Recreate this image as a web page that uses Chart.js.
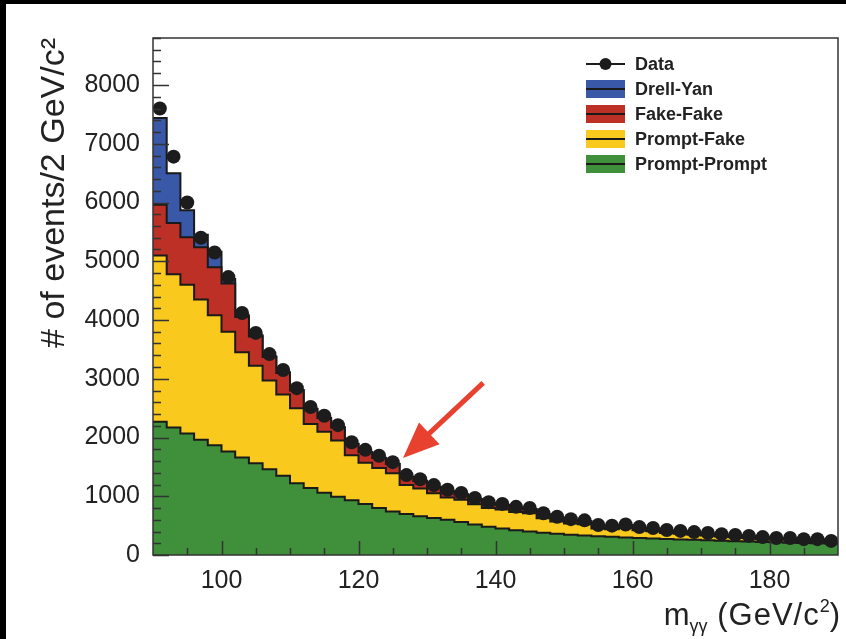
<!DOCTYPE html>
<html>
<head>
<meta charset="utf-8">
<script src="https://cdn.jsdelivr.net/npm/chart.js@4/dist/chart.umd.min.js"></script>
<style>
  html, body { margin: 0; padding: 0; background: #fff; }
  canvas { display: block; }
</style>
</head>
<body>
<canvas id="massChart" width="846" height="639"></canvas>
<script>
// Di-photon invariant mass, 2 GeV/c^2 bins (lower edges) from 90 to 190
const massBins = [90, 92, 94, 96, 98, 100, 102, 104, 106, 108,
                  110, 112, 114, 116, 118, 120, 122, 124, 126, 128,
                  130, 132, 134, 136, 138, 140, 142, 144, 146, 148,
                  150, 152, 154, 156, 158, 160, 162, 164, 166, 168,
                  170, 172, 174, 176, 178, 180, 182, 184, 186, 188];
const binWidth = 2;
const massMax = 190;

// Observed events per bin
const dataCounts = [7600, 6780, 6000, 5400, 5150, 4730, 4120, 3780, 3420, 3150,
                    2840, 2520, 2370, 2210, 1920, 1790, 1690, 1580, 1360, 1290,
                    1190, 1110, 1055, 970, 900, 870, 820, 800, 710, 650,
                    610, 590, 510, 500, 520, 475, 460, 425, 410, 390,
                    375, 355, 340, 325, 305, 290, 290, 270, 270, 240];

// Background components (stacked, bottom to top)
const promptPrompt = [2270, 2170, 2070, 1960, 1870, 1760, 1660, 1560, 1460, 1350,
                      1220, 1140, 1060, 990, 930, 870, 800, 740, 700, 660,
                      630, 600, 560, 520, 480, 450, 420, 400, 380, 360,
                      345, 330, 320, 310, 300, 290, 280, 272, 265, 258,
                      250, 243, 236, 230, 223, 217, 210, 205, 200, 195];
const promptFake = [2830, 2610, 2530, 2390, 2210, 2040, 1790, 1660, 1510, 1380,
                    1280, 1090, 1040, 960, 770, 700, 680, 650, 490, 470,
                    420, 380, 380, 345, 320, 325, 310, 310, 245, 210,
                    190, 195, 130, 130, 160, 130, 125, 102, 97, 86,
                    80, 71, 66, 58, 48, 41, 49, 35, 41, 18];
const fakeFake = [860, 870, 810, 890, 820, 820, 600, 500, 400, 370,
                  300, 250, 230, 220, 190, 180, 170, 160, 140, 130,
                  110, 100, 90, 85, 80, 75, 70, 70, 65, 60,
                  55, 50, 45, 45, 45, 40, 40, 38, 36, 34,
                  32, 30, 28, 27, 25, 24, 23, 22, 21, 20];
const drellYan = [1480, 850, 460, 210, 260, 80, 30, 20, 15, 10,
                  10, 8, 6, 5, 5, 4, 4, 3, 3, 3,
                  2, 2, 2, 2, 2, 1, 1, 1, 1, 1,
                  1, 1, 1, 1, 1, 1, 1, 1, 1, 1,
                  1, 1, 1, 1, 1, 1, 1, 1, 1, 1];

// Axis ticks
const yMajorTicks = [0, 1000, 2000, 3000, 4000, 5000, 6000, 7000, 8000];
const xMajorTicks = [100, 120, 140, 160, 180];
const yMinorStep = 200;
const xMinorStep = 5;

// Annotation arrow (mass, events): tail and tip
const arrowTail = [138.2, 2930];
const arrowTip = [126.5, 1650];

const FONT = '"Liberation Sans", Arial, Helvetica, sans-serif';
const INK = '#222';

// Step-histogram points: one per lower edge, plus the closing upper edge
function histPoints(values) {
  const pts = massBins.map((x, i) => ({ x: x, y: values[i] }));
  pts.push({ x: massMax, y: values[values.length - 1] });
  return pts;
}

function component(label, values, color, fill) {
  return {
    label: label,
    data: histPoints(values),
    stepped: 'before',
    backgroundColor: color,
    borderColor: '#1a1a1a',
    borderWidth: 2,
    pointRadius: 0,
    fill: fill,
    stack: 'background',
    order: 1
  };
}

const datasets = [
  component('Prompt-Prompt', promptPrompt, '#3f8f3b', 'origin'),
  component('Prompt-Fake', promptFake, '#f9c91e', '-1'),
  component('Fake-Fake', fakeFake, '#bd3026', '-1'),
  component('Drell-Yan', drellYan, '#3a58a8', '-1'),
  {
    label: 'Data',
    data: massBins.map((x, i) => ({ x: x + binWidth / 2, y: dataCounts[i] })),
    showLine: false,
    pointRadius: 7,
    pointBackgroundColor: '#1c1c1c',
    pointBorderWidth: 0,
    stack: 'data',
    order: -1
  }
];

// White page with the dark scan edge along the top and left
const pageFrame = {
  id: 'pageFrame',
  beforeDraw(chart) {
    const { ctx, width, height } = chart;
    ctx.save();
    ctx.fillStyle = '#fff';
    ctx.fillRect(0, 0, width, height);
    ctx.fillStyle = '#000';
    ctx.fillRect(0, 0, width, 4);
    ctx.fillRect(0, 0, 6, height);
    ctx.restore();
  }
};

// Inward-pointing major/minor ticks and the plot frame
const axisFrame = {
  id: 'axisFrame',
  afterDatasetsDraw(chart) {
    const { ctx, chartArea: a, scales: { x, y } } = chart;
    ctx.save();
    ctx.strokeStyle = '#333';
    ctx.lineWidth = 1.5;
    ctx.beginPath();
    const nY = Math.floor(y.max / yMinorStep);
    for (let i = 0; i <= nY; i++) {
      const v = i * yMinorStep;
      const py = Math.round(y.getPixelForValue(v)) + 0.5;
      const len = yMajorTicks.includes(v) ? 16 : 8;
      ctx.moveTo(a.left, py);
      ctx.lineTo(a.left + len, py);
    }
    const nX = Math.floor((x.max - x.min) / xMinorStep);
    for (let i = 1; i < nX; i++) {
      const v = x.min + i * xMinorStep;
      const px = Math.round(x.getPixelForValue(v)) + 0.5;
      const len = xMajorTicks.includes(v) ? 14 : 7;
      ctx.moveTo(px, a.bottom);
      ctx.lineTo(px, a.bottom - len);
    }
    ctx.stroke();
    ctx.strokeRect(a.left, a.top, a.right - a.left, a.bottom - a.top);
    ctx.restore();
  }
};

// Legend inside the frame: data marker first, then the stack from top to bottom
const stackLegend = {
  id: 'stackLegend',
  afterDraw(chart) {
    const { ctx } = chart;
    const items = chart.data.datasets.slice().reverse();
    const x0 = 586, w = 39, h = 18, textX = 635, rowY = 64, rowStep = 25;
    ctx.save();
    ctx.font = 'bold 18px ' + FONT;
    ctx.textBaseline = 'middle';
    items.forEach((ds, i) => {
      const cy = rowY + i * rowStep;
      if (ds.stack === 'data') {
        ctx.strokeStyle = '#1c1c1c';
        ctx.lineWidth = 2;
        ctx.beginPath();
        ctx.moveTo(x0, cy);
        ctx.lineTo(x0 + w, cy);
        ctx.stroke();
        ctx.fillStyle = '#1c1c1c';
        ctx.beginPath();
        ctx.arc(x0 + w / 2, cy, 6, 0, Math.PI * 2);
        ctx.fill();
      } else {
        ctx.fillStyle = ds.backgroundColor;
        ctx.fillRect(x0, cy - h / 2, w, h);
        ctx.strokeStyle = '#1a1a1a';
        ctx.lineWidth = 2;
        ctx.beginPath();
        ctx.moveTo(x0, cy);
        ctx.lineTo(x0 + w, cy);
        ctx.stroke();
      }
      ctx.fillStyle = INK;
      ctx.fillText(ds.label, textX, cy + 1);
    });
    ctx.restore();
  }
};

// Axis title with sub- and superscripts, right-aligned under the x axis
const massTitle = {
  id: 'massTitle',
  afterDraw(chart) {
    const { ctx } = chart;
    const base = 625, rightEdge = 840;
    const parts = [
      { t: 'm', size: 31, dy: 0, sp: 0 },
      { t: 'γγ', size: 18, dy: 7, sp: 0 },
      { t: ' (GeV/c', size: 31, dy: 0, sp: 1 },
      { t: '2', size: 18, dy: -13, sp: 0 },
      { t: ')', size: 31, dy: 0, sp: 0 }
    ];
    ctx.save();
    ctx.fillStyle = INK;
    ctx.textBaseline = 'alphabetic';
    let total = 0;
    parts.forEach(p => {
      ctx.font = p.size + 'px ' + FONT;
      ctx.letterSpacing = p.sp + 'px';
      p.w = ctx.measureText(p.t).width;
      total += p.w;
    });
    let x = rightEdge - total;
    parts.forEach(p => {
      ctx.font = p.size + 'px ' + FONT;
      ctx.letterSpacing = p.sp + 'px';
      ctx.fillText(p.t, x, base + p.dy);
      x += p.w;
    });
    ctx.restore();
  }
};

// Red arrow pointing at the bin of interest
const pointerArrow = {
  id: 'pointerArrow',
  afterDraw(chart) {
    const { ctx, scales: { x, y } } = chart;
    const tx = x.getPixelForValue(arrowTail[0]), ty = y.getPixelForValue(arrowTail[1]);
    const hx = x.getPixelForValue(arrowTip[0]), hy = y.getPixelForValue(arrowTip[1]);
    const ang = Math.atan2(hy - ty, hx - tx);
    const headLen = 36, headHalf = 15;
    const bx = hx - headLen * Math.cos(ang), by = hy - headLen * Math.sin(ang);
    ctx.save();
    ctx.strokeStyle = '#e8412f';
    ctx.fillStyle = '#e8412f';
    ctx.lineWidth = 5;
    ctx.beginPath();
    ctx.moveTo(tx, ty);
    ctx.lineTo(bx + 4 * Math.cos(ang), by + 4 * Math.sin(ang));
    ctx.stroke();
    ctx.beginPath();
    ctx.moveTo(hx, hy);
    ctx.lineTo(bx + headHalf * Math.sin(ang), by - headHalf * Math.cos(ang));
    ctx.lineTo(bx - headHalf * Math.sin(ang), by + headHalf * Math.cos(ang));
    ctx.closePath();
    ctx.fill();
    ctx.restore();
  }
};

new Chart(document.getElementById('massChart'), {
  type: 'line',
  data: { datasets: datasets },
  options: {
    responsive: false,
    animation: false,
    devicePixelRatio: 1,
    layout: { padding: { left: 6, top: 38, right: 8, bottom: 0 } },
    plugins: {
      legend: { display: false },
      tooltip: { enabled: false }
    },
    scales: {
      x: {
        type: 'linear',
        min: 90,
        max: massMax,
        grid: { display: false, drawTicks: false },
        border: { display: false },
        afterBuildTicks: s => { s.ticks = xMajorTicks.map(v => ({ value: v })); },
        afterFit: s => { s.height = 84; },
        ticks: {
          padding: 11,
          maxRotation: 0,
          autoSkip: false,
          color: INK,
          font: { family: FONT, size: 25 },
          callback: v => String(v)
        }
      },
      y: {
        stacked: true,
        min: 0,
        max: 8800,
        grid: { display: false, drawTicks: false },
        border: { display: false },
        afterBuildTicks: s => { s.ticks = yMajorTicks.map(v => ({ value: v })); },
        afterFit: s => { s.width = 147; },
        ticks: {
          padding: 13,
          color: INK,
          font: { family: FONT, size: 25 },
          callback: v => String(v)
        },
        title: {
          display: true,
          text: '# of events/2 GeV/c²',
          align: 'end',
          color: INK,
          font: { family: FONT, size: 34 },
          padding: { top: 28, bottom: 0 }
        }
      }
    }
  },
  plugins: [pageFrame, axisFrame, stackLegend, massTitle, pointerArrow]
});
</script>
</body>
</html>
